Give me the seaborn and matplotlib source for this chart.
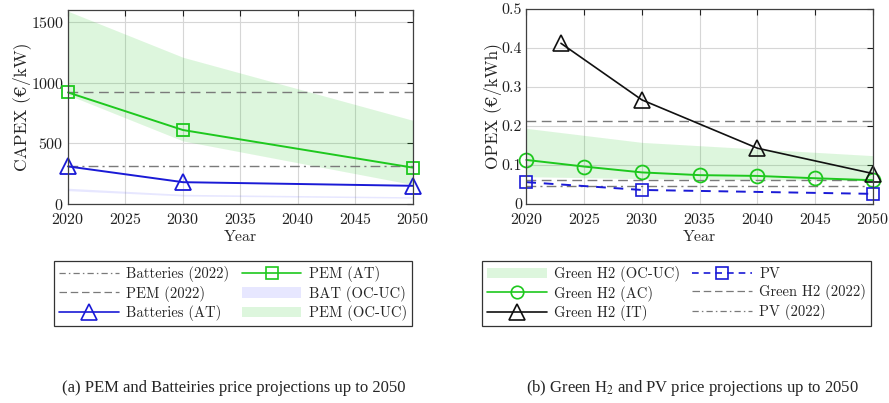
import matplotlib
matplotlib.use("Agg")
import matplotlib.pyplot as plt
import seaborn as sns
import numpy as np
import pandas as pd
from matplotlib.patches import Patch
from matplotlib.lines import Line2D
from matplotlib.ticker import FuncFormatter

# ---------------- data ----------------
years_a = [2020, 2030, 2050]
pem_at = [920, 610, 300]
bat_at = [310, 180, 150]
pem_band_lo = [900, 520, 160]
pem_band_hi = [1590, 1210, 690]
bat_band_lo = [110, 66, 48]
bat_band_hi = [130, 80, 60]
pem_2022 = 920
bat_2022 = 310

years_it = [2023, 2030, 2040, 2050]
h2_it = [0.412, 0.267, 0.143, 0.078]
years_ac = [2020, 2025, 2030, 2035, 2040, 2045, 2050]
h2_ac = [0.113, 0.096, 0.081, 0.074, 0.072, 0.066, 0.061]
years_pv = [2020, 2030, 2050]
pv = [0.056, 0.036, 0.026]
years_band_b = [2020, 2030, 2050]
h2_band_hi = [0.194, 0.158, 0.124]
h2_band_lo = [0.070, 0.065, 0.060]
h2_2022 = [0.213, 0.061]
pv_2022 = 0.045

x_ticks = [2020, 2025, 2030, 2035, 2040, 2045, 2050]

# ---------------- style ----------------
sns.set_style("white")
plt.rcParams['font.family'] = ['cmr10', 'DejaVu Serif']
plt.rcParams['axes.formatter.use_mathtext'] = True
plt.rcParams['mathtext.fontset'] = 'stix'

GREEN = '#1ec81e'
BLUE = '#1a1ad6'
GRAY = '#7a7a7a'
AXC = '#404040'

fig = plt.figure(figsize=(8.89, 4.03), dpi=100)
ax1 = fig.add_axes([0.0765, 0.4938, 0.388, 0.4814])
ax2 = fig.add_axes([0.592, 0.4938, 0.390, 0.4839])

def style_axes(ax):
    ax.set_xlim(2020, 2050)
    ax.set_xticks(x_ticks)
    ax.grid(True, color='#d6d6d6', linewidth=0.8)
    ax.set_axisbelow(True)
    ax.tick_params(direction='in', length=4, width=0.8, top=True, right=True,
                   labelsize=11.5, colors='#202020', pad=3)
    ax.tick_params(axis='x', pad=5.5)
    for s in ax.spines.values():
        s.set_color(AXC)
        s.set_linewidth(0.9)
        s.set_visible(True)
    ax.set_xlabel('Year', fontsize=11.5, labelpad=2.5)
    if ax.get_legend() is not None:
        ax.get_legend().remove()

# ---- panel (a) ----
ax1.fill_between(years_a, pem_band_lo, pem_band_hi, color=GREEN, alpha=0.15,
                 linewidth=0)
ax1.fill_between(years_a, bat_band_lo, bat_band_hi, color='#6060ff', alpha=0.15,
                 linewidth=0)
ax1.axhline(bat_2022, color=GRAY, lw=1.0, ls=(0, (7, 3, 1.5, 3)))
ax1.axhline(pem_2022, color=GRAY, lw=1.0, ls=(0, (7, 4)))
dfa = pd.DataFrame({'Year': years_a, 'PEM': pem_at, 'BAT': bat_at})
sns.lineplot(data=dfa, x='Year', y='PEM', ax=ax1, color=GREEN, lw=1.4,
             marker='s', markersize=9, markerfacecolor='none',
             markeredgecolor=GREEN, markeredgewidth=1.3, clip_on=False)
sns.lineplot(data=dfa, x='Year', y='BAT', ax=ax1, color=BLUE, lw=1.4,
             marker='^', markersize=12, markerfacecolor='none',
             markeredgecolor=BLUE, markeredgewidth=1.3, clip_on=False)
style_axes(ax1)
ax1.set_ylim(0, 1600)
ax1.set_yticks([0, 500, 1000, 1500])
ax1.set_ylabel('CAPEX (€/kW)', fontsize=12.5, labelpad=0)

# ---- panel (b) ----
ax2.fill_between(years_band_b, h2_band_lo, h2_band_hi, color=GREEN, alpha=0.15,
                 linewidth=0)
for v in h2_2022:
    ax2.axhline(v, color=GRAY, lw=1.0, ls=(0, (7, 4)))
ax2.axhline(pv_2022, color=GRAY, lw=1.0, ls=(0, (7, 3, 1.5, 3)))
sns.lineplot(x=years_ac, y=h2_ac, ax=ax2, color=GREEN, lw=1.4,
             marker='o', markersize=10, markerfacecolor='none',
             markeredgecolor=GREEN, markeredgewidth=1.3, clip_on=False)
sns.lineplot(x=years_it, y=h2_it, ax=ax2, color='#111111', lw=1.2,
             marker='^', markersize=12, markerfacecolor='none',
             markeredgecolor='#111111', markeredgewidth=1.2, clip_on=False)
sns.lineplot(x=years_pv, y=pv, ax=ax2, color=BLUE, lw=1.4, linestyle=(0, (5, 4)),
             marker='s', markersize=8, markerfacecolor='none',
             markeredgecolor=BLUE, markeredgewidth=1.2, clip_on=False)
style_axes(ax2)
ax2.set_ylim(0, 0.5)
ax2.set_yticks([0, 0.1, 0.2, 0.3, 0.4, 0.5])
ax2.yaxis.set_major_formatter(FuncFormatter(lambda v, p: '0' if v == 0 else f'{v:.1f}'))
ax2.set_ylabel('OPEX (€/kWh)', fontsize=12.5, labelpad=0)

# ---- legends ----
def ln(color, ls='-', marker=None, ms=9, lw=1.2):
    return Line2D([0], [0], color=color, ls=ls, lw=lw, marker=marker, markersize=ms,
                  markerfacecolor='none', markeredgecolor=color, markeredgewidth=1.2)

h_a = [ln(GRAY, (0, (5, 2.5, 1.2, 2.5)), lw=0.9),
       ln(GRAY, (0, (6, 3)), lw=0.9),
       ln(BLUE, '-', '^', 11),
       ln(GREEN, '-', 's', 8),
       Patch(facecolor='#6060ff', alpha=0.15, edgecolor='none'),
       Patch(facecolor=GREEN, alpha=0.15, edgecolor='none')]
l_a = ['Batteries (2022)', 'PEM (2022)', 'Batteries (AT)',
       'PEM (AT)', 'BAT (OC-UC)', 'PEM (OC-UC)']
h_b = [Patch(facecolor=GREEN, alpha=0.15, edgecolor='none'),
       ln(GREEN, '-', 'o', 9),
       ln('#111111', '-', '^', 11),
       ln(BLUE, (0, (4, 3)), 's', 8),
       ln(GRAY, (0, (6, 3)), lw=0.9),
       ln(GRAY, (0, (5, 2.5, 1.2, 2.5)), lw=0.9)]
l_b = ['Green H2 (OC-UC)', 'Green H2 (AC)', 'Green H2 (IT)',
       'PV', 'Green H2 (2022)', 'PV (2022)']

common = dict(ncol=2, loc='center', fontsize=10.5, handlelength=4.1,
              handletextpad=0.5, columnspacing=0.85, labelspacing=0.22,
              numpoints=1, fancybox=False, framealpha=1, borderpad=0.35,
              borderaxespad=0)
leg1 = fig.legend(h_a, l_a, bbox_to_anchor=(233 / 889, 1 - 293.5 / 403), **common)
leg2 = fig.legend(h_b, l_b, bbox_to_anchor=(676.5 / 889, 1 - 293.5 / 403), **common)
for lg in (leg1, leg2):
    lg.get_frame().set_edgecolor('#333333')
    lg.get_frame().set_linewidth(0.9)

# ---- captions ----
fig.text(234 / 889, 1 - 388 / 403, '(a) PEM and Batteiries price projections up to 2050',
         ha='center', va='center', fontsize=12, family=['Liberation Serif', 'DejaVu Serif'])
fig.text(692 / 889, 1 - 388 / 403, '(b) Green H$_2$ and PV price projections up to 2050',
         ha='center', va='center', fontsize=12, family=['Liberation Serif', 'DejaVu Serif'])

fig.savefig('out.png', dpi=100)
